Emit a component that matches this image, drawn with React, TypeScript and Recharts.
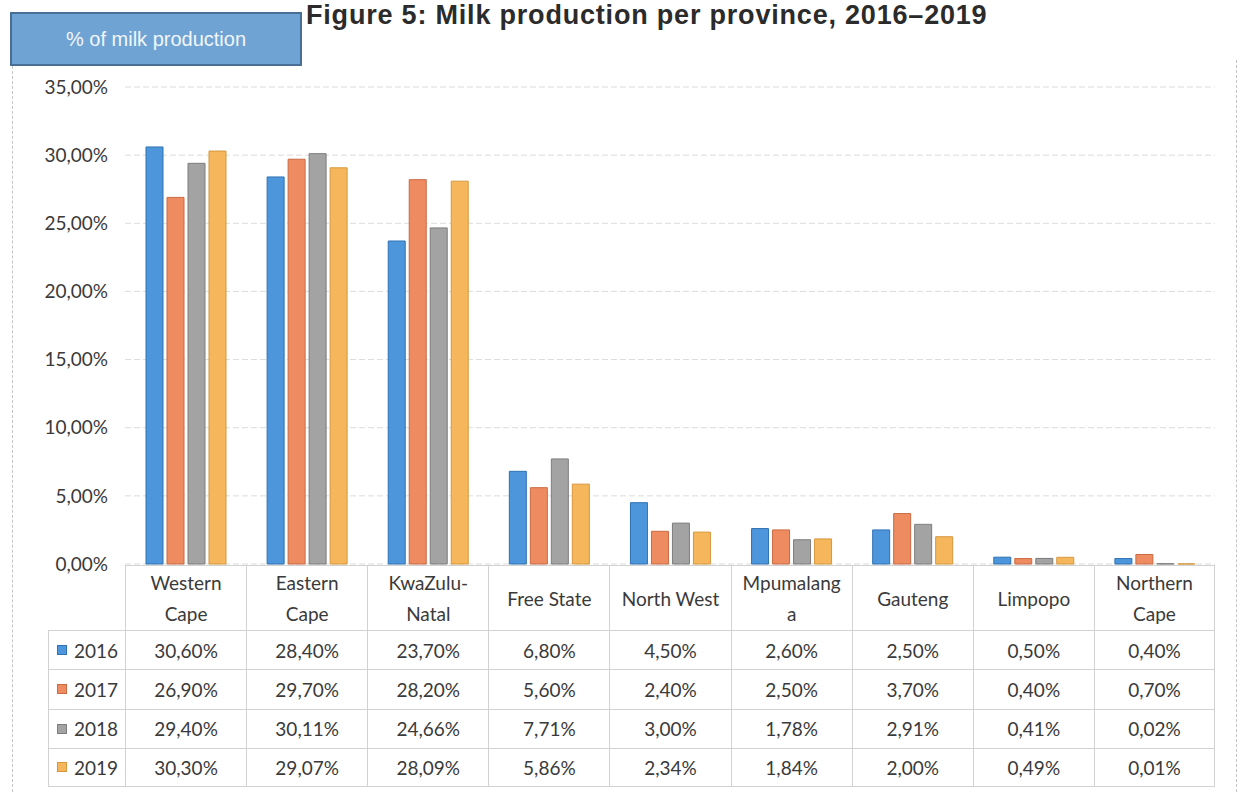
import React from 'react'
import { BarChart, Bar, XAxis, YAxis, CartesianGrid } from 'recharts'

// provinces in display order, plus how each header cell wraps
const provinces = ['Western Cape', 'Eastern Cape', 'KwaZulu-Natal', 'Free State', 'North West', 'Mpumalanga', 'Gauteng', 'Limpopo', 'Northern Cape']
const headerLines = [['Western', 'Cape'], ['Eastern', 'Cape'], ['KwaZulu-', 'Natal'], ['Free State'], ['North West'], ['Mpumalang', 'a'], ['Gauteng'], ['Limpopo'], ['Northern', 'Cape']]

const years = ['2016', '2017', '2018', '2019']
const v2016 = [30.6, 28.4, 23.7, 6.8, 4.5, 2.6, 2.5, 0.5, 0.4]
const v2017 = [26.9, 29.7, 28.2, 5.6, 2.4, 2.5, 3.7, 0.4, 0.7]
const v2018 = [29.4, 30.11, 24.66, 7.71, 3.0, 1.78, 2.91, 0.41, 0.02]
const v2019 = [30.3, 29.07, 28.09, 5.86, 2.34, 1.84, 2.0, 0.49, 0.01]
const yTicks = [0, 5, 10, 15, 20, 25, 30, 35]

const series = [v2016, v2017, v2018, v2019]
const fills = ['#4d96dc', '#ef8b61', '#a3a3a3', '#f6b65c']
const strokes = ['#2f72b3', '#c96a43', '#7d7d7d', '#d6973d']

const chartData = provinces.map((name, i) => ({
  name,
  '2016': v2016[i],
  '2017': v2017[i],
  '2018': v2018[i],
  '2019': v2019[i],
}))

const pct = (v: number) => v.toFixed(2).replace('.', ',') + '%'

const FONT = 'Lato, "Noto Sans", sans-serif'
const TEXT = '#3a3a3a'
const LINE = '1px solid #d2d2d2'

// table geometry, lined up with the plot area
const plotLeft = 125
const plotRight = 1215
const colW = (plotRight - plotLeft) / provinces.length
const headTop = 565
const headH = 65
const rowH = 39.25
const legendLeft = 48

export default function App() {
  return (
    <div style={{ position: 'absolute', left: 0, top: 0, width: 1245, height: 792, background: '#fff', overflow: 'hidden', fontFamily: FONT }}>
      {/* outer frame */}
      <div style={{ position: 'absolute', left: 12, top: 66, height: 726, borderLeft: '1px dashed #c4c4c4' }} />
      <div style={{ position: 'absolute', left: 1236, top: 60, height: 732, borderLeft: '1px dashed #c4c4c4' }} />

      <div style={{ position: 'absolute', left: 0, top: 0 }}>
        <BarChart
          width={1245}
          height={580}
          data={chartData}
          margin={{ top: 87, right: 1245 - plotRight, left: 0, bottom: 16 }}
          barSize={17}
          barGap={4}
        >
          <CartesianGrid vertical={false} stroke="#dcdcdc" strokeDasharray="6 3" />
          <XAxis dataKey="name" hide />
          <YAxis
            width={plotLeft}
            domain={[0, 35]}
            ticks={yTicks}
            interval={0}
            tickFormatter={pct}
            axisLine={false}
            tickLine={false}
            tickSize={0}
            tickMargin={17}
            tick={{ fontSize: 19, fill: TEXT, fontFamily: FONT }}
          />
          {years.map((y, i) => (
            <Bar key={y} dataKey={y} fill={fills[i]} stroke={strokes[i]} strokeWidth={1} isAnimationActive={false} />
          ))}
        </BarChart>
      </div>

      {/* data table header */}
      {headerLines.map((lines, i) => (
        <div
          key={provinces[i]}
          style={{
            position: 'absolute', left: plotLeft + i * colW, top: headTop, width: colW, height: headH,
            borderLeft: LINE, borderTop: LINE, borderRight: i === provinces.length - 1 ? LINE : undefined,
            boxSizing: 'border-box', display: 'flex', flexDirection: 'column', justifyContent: 'center', alignItems: 'center',
            fontSize: 19, lineHeight: '31px', color: TEXT,
          }}
        >
          {lines.map(l => <div key={l}>{l}</div>)}
        </div>
      ))}

      {/* data table rows */}
      {years.map((y, r) => (
        <React.Fragment key={y}>
          <div
            style={{
              position: 'absolute', left: legendLeft, top: headTop + headH + r * rowH, width: plotLeft - legendLeft, height: rowH,
              borderLeft: LINE, borderTop: LINE, borderBottom: r === years.length - 1 ? LINE : undefined,
              boxSizing: 'border-box', display: 'flex', alignItems: 'center', fontSize: 19, color: TEXT,
            }}
          >
            <span style={{ display: 'inline-block', width: 10, height: 10, background: fills[r], border: `1px solid ${strokes[r]}`, marginLeft: 8, marginRight: 7, boxSizing: 'border-box' }} />
            {y}
          </div>
          {series[r].map((v, i) => (
            <div
              key={provinces[i]}
              style={{
                position: 'absolute', left: plotLeft + i * colW, top: headTop + headH + r * rowH, width: colW, height: rowH,
                borderLeft: LINE, borderTop: LINE,
                borderRight: i === provinces.length - 1 ? LINE : undefined,
                borderBottom: r === years.length - 1 ? LINE : undefined,
                boxSizing: 'border-box', display: 'flex', alignItems: 'center', justifyContent: 'center', fontSize: 19, color: TEXT,
              }}
            >
              {pct(v)}
            </div>
          ))}
        </React.Fragment>
      ))}

      {/* title and axis caption box */}
      <div style={{ position: 'absolute', left: 306, top: 0, fontFamily: '"Liberation Sans", Arial, sans-serif', fontWeight: 700, fontSize: 27, letterSpacing: 0.8, color: '#2b2b2b', lineHeight: '30px', whiteSpace: 'nowrap' }}>
        Figure 5: Milk production per province, 2016–2019
      </div>
      <div style={{
        position: 'absolute', left: 10, top: 12, width: 292, height: 54, boxSizing: 'border-box',
        background: '#6fa3d4', border: '2px solid #4a6f96', color: '#f2f6fa',
        fontFamily: '"Liberation Sans", Arial, sans-serif', fontSize: 20, display: 'flex', alignItems: 'center', justifyContent: 'center',
      }}>
        % of milk production
      </div>
    </div>
  )
}
